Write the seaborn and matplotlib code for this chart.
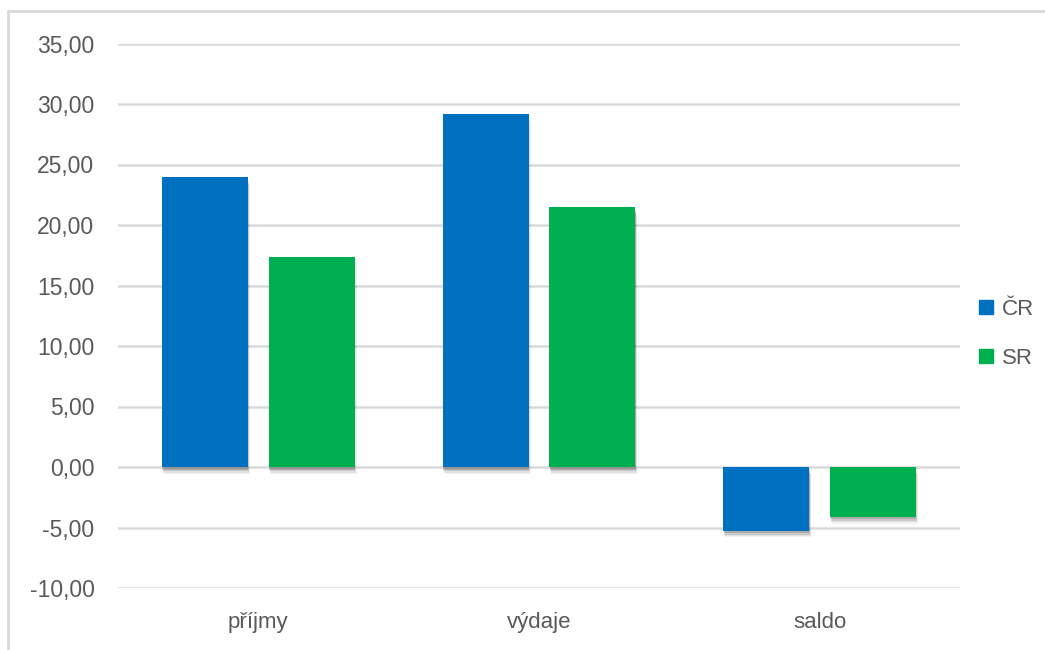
import matplotlib
matplotlib.use("Agg")
import matplotlib.pyplot as plt
import matplotlib.patheffects as pe
from matplotlib.patches import Rectangle
from matplotlib.lines import Line2D
import seaborn as sns
import pandas as pd

# Data
categories = ["příjmy", "výdaje", "saldo"]
cr_values = [23.95, 29.20, -5.25]
sr_values = [17.35, 21.45, -4.10]
series_names = ["ČR", "SR"]
yticks = [-10, -5, 0, 5, 10, 15, 20, 25, 30, 35]

colors = {"ČR": "#0070C0", "SR": "#00B050"}
text_color = "#595959"
grid_color = "#D9D9D9"

df = pd.DataFrame({
    "kategorie": categories * 2,
    "země": [series_names[0]] * 3 + [series_names[1]] * 3,
    "hodnota": cr_values + sr_values,
})

sns.set_theme(style="white")
plt.rcParams["font.family"] = ["Liberation Sans", "DejaVu Sans"]

fig = plt.figure(figsize=(10.45, 6.5), dpi=100)
ax = fig.add_axes([118 / 1045, 1 - 588 / 650, (960 - 118) / 1045, (588 - 43.5) / 650])

sns.barplot(data=df, x="kategorie", y="hodnota", hue="země", order=categories,
            hue_order=series_names, palette=colors, width=0.76, gap=0.195,
            saturation=1, ax=ax, legend=False, zorder=3)

# soft drop shadow under the bars
shadow = [
    pe.SimplePatchShadow(offset=(1.5, -5.0), shadow_rgbFace="black", alpha=0.05),
    pe.SimplePatchShadow(offset=(1.0, -4.0), shadow_rgbFace="black", alpha=0.07),
    pe.SimplePatchShadow(offset=(0.5, -3.0), shadow_rgbFace="black", alpha=0.10),
    pe.SimplePatchShadow(offset=(0.3, -2.0), shadow_rgbFace="black", alpha=0.14),
    pe.Normal(),
]
for p in ax.patches:
    p.set_path_effects(shadow)
    p.set_edgecolor("none")

ax.set_ylim(-10, 35)
ax.set_xlim(-0.5, 2.5)
ax.set_yticks(yticks)
ax.set_yticklabels([f"{v:.2f}".replace(".", ",") for v in yticks])
ax.yaxis.grid(True, color=grid_color, linewidth=1.8, zorder=0)
ax.set_axisbelow(True)
for s in ax.spines.values():
    s.set_visible(False)
ax.set_xlabel("")
ax.set_ylabel("")
ax.tick_params(axis="y", length=0, pad=17, labelsize=16.5, labelcolor=text_color)
ax.tick_params(axis="x", length=0, pad=17, labelsize=16, labelcolor=text_color)

# legend on the right
handles = [Line2D([0], [0], marker="s", linestyle="none", markersize=10,
                  markerfacecolor=colors[n], markeredgecolor=colors[n]) for n in series_names]
leg = fig.legend(handles, series_names, loc="center left", bbox_to_anchor=(976 / 1045, 1 - 334 / 650),
                 frameon=False, borderpad=0, borderaxespad=0, handletextpad=0.25,
                 labelspacing=1.25, fontsize=16, labelcolor=text_color, handlelength=0.9)

# chart frame
fig.add_artist(Rectangle((8 / 1045, -0.01), 1.1, 1 - 11 / 650 + 0.01, transform=fig.transFigure,
                         fill=False, edgecolor="#D9D9D9", linewidth=2))

fig.savefig("out.png", dpi=100, facecolor="white")
